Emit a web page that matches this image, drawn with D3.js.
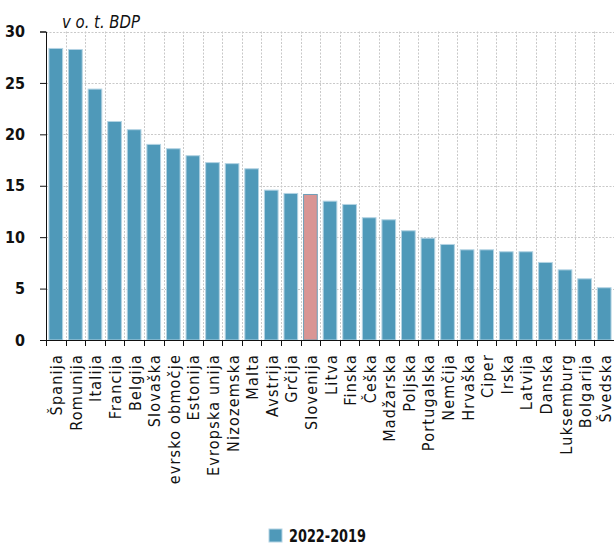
<!DOCTYPE html>
<html>
<head>
<meta charset="utf-8">
<script src="https://cdn.jsdelivr.net/npm/d3@7"></script>
<style>
  html, body { margin: 0; padding: 0; background: #fff; }
  svg { display: block; }
  text { font-family: "DejaVu Sans Condensed", "DejaVu Sans", sans-serif; font-stretch: condensed; fill: #111; }
</style>
</head>
<body>
<svg id="chart" width="614" height="545"></svg>
<script>
// Spending change, 2022 vs 2019, in percentage points of GDP
const countries = [
  "Španija", "Romunija", "Italija", "Francija", "Belgija", "Slovaška",
  "evrsko območje", "Estonija", "Evropska unija", "Nizozemska", "Malta",
  "Avstrija", "Grčija", "Slovenija", "Litva", "Finska", "Češka",
  "Madžarska", "Poljska", "Portugalska", "Nemčija", "Hrvaška", "Ciper",
  "Irska", "Latvija", "Danska", "Luksemburg", "Bolgarija", "Švedska"
];
const values = [
  28.4, 28.3, 24.45, 21.3, 20.5, 19.07,
  18.65, 17.97, 17.3, 17.2, 16.7,
  14.62, 14.3, 14.2, 13.55, 13.23, 11.94,
  11.74, 10.67, 9.95, 9.34, 8.82, 8.82,
  8.63, 8.63, 7.59, 6.87, 6.0, 5.13
];
const yTicks = [0, 5, 10, 15, 20, 25, 30];
const seriesName = "2022-2019";
const unitLabel = "v o. t. BDP";
const highlight = "Slovenija";

const svg = d3.select("#chart");
const m = { left: 46, right: 0, top: 31.5, bottom: 205 };
const W = 614, H = 545;
const x0 = m.left, x1 = W - m.right;
const y0 = H - m.bottom, y1 = m.top;

const x = d3.scaleBand().domain(countries).range([x0, x1]).paddingInner(0.25).paddingOuter(0.125);
const y = d3.scaleLinear().domain([0, 30]).range([y0, y1]);

const step = x.step();
const grid = svg.append("g").attr("stroke", "#c9c9c9").attr("stroke-width", 1)
  .attr("stroke-dasharray", "2,1.5");
// horizontal gridlines
grid.selectAll("line.h").data(yTicks.filter(d => d > 0)).join("line")
  .attr("x1", x0).attr("x2", x1)
  .attr("y1", d => Math.round(y(d)) + 0.5).attr("y2", d => Math.round(y(d)) + 0.5);
// vertical gridlines at category boundaries
grid.selectAll("line.v").data(countries.slice(1)).join("line")
  .attr("x1", (d, i) => Math.round(x0 + (i + 1) * step) + 0.5)
  .attr("x2", (d, i) => Math.round(x0 + (i + 1) * step) + 0.5)
  .attr("y1", y1).attr("y2", y0);

// bars
svg.append("g").selectAll("rect").data(countries).join("rect")
  .attr("x", d => x(d) + 0.5)
  .attr("width", x.bandwidth() - 1)
  .attr("y", (d, i) => y(values[i]) + 0.5)
  .attr("height", (d, i) => y0 - y(values[i]) - 0.5)
  .attr("fill", d => d === highlight ? "#d99594" : "#4f99b9")
  .attr("stroke", d => d === highlight ? "#6f9fb8" : "#b3d3e3")
  .attr("stroke-width", 1);

// y axis
const yAxis = svg.append("g").attr("transform", `translate(${x0},0)`)
  .call(d3.axisLeft(y).tickValues(yTicks).tickSize(6).tickPadding(15));
yAxis.select(".domain").attr("stroke", "#111");
yAxis.selectAll(".tick line").attr("stroke", "#111");
yAxis.selectAll(".tick text")
  .attr("font-size", 16).attr("font-weight", "bold")
  .style("font-family", "'DejaVu Sans Condensed', 'DejaVu Sans', sans-serif").attr("fill", "#111");

// x axis: ticks at category boundaries, labels rotated
const xAxis = svg.append("g");
xAxis.append("line").attr("x1", x0).attr("x2", x1).attr("y1", y0 + 0.5).attr("y2", y0 + 0.5)
  .attr("stroke", "#111");
xAxis.selectAll("line.t").data(d3.range(countries.length + 1)).join("line")
  .attr("x1", i => Math.round(x0 + i * step) + 0.5).attr("x2", i => Math.round(x0 + i * step) + 0.5)
  .attr("y1", y0).attr("y2", y0 + 6).attr("stroke", "#111");
xAxis.selectAll("text").data(countries).join("text")
  .attr("transform", d => `translate(${x(d) + x.bandwidth() / 2 + 1},${y0 + 14}) rotate(-90)`)
  .attr("text-anchor", "end")
  .attr("dominant-baseline", "central")
  .attr("font-size", 16)
  .attr("letter-spacing", 1.2)
  .text(d => d);

// unit label
svg.append("text").attr("x", 62).attr("y", 28)
  .attr("font-size", 17).attr("font-style", "italic")
  .attr("textLength", 78).attr("lengthAdjust", "spacingAndGlyphs")
  .text(unitLabel);

// legend
const lg = svg.append("g").attr("transform", "translate(269,529)");
lg.append("rect").attr("width", 13).attr("height", 13).attr("fill", "#4f99b9")
  .attr("stroke", "#b3d3e3");
lg.append("text").attr("x", 20).attr("y", 13)
  .attr("font-size", 18).attr("font-weight", "bold")
  .attr("textLength", 77).attr("lengthAdjust", "spacingAndGlyphs")
  .text(seriesName);
</script>
</body>
</html>
